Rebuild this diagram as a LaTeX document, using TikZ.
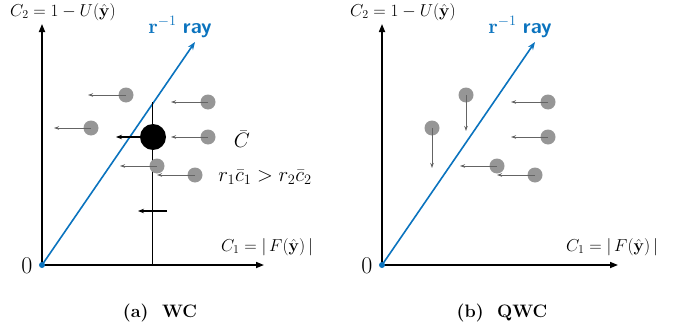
\documentclass[tikz,border=0pt]{standalone}
\usepackage{amsmath,amssymb}
\usetikzlibrary{arrows.meta}
\definecolor{raybl}{RGB}{10,115,190}
\definecolor{dotg}{RGB}{150,150,150}
\definecolor{arrg}{RGB}{100,100,100}
\begin{document}
\begin{tikzpicture}[x=1pt,y=-1pt,
  axis/.style={line width=1.6pt,-{Triangle[length=8pt,width=6pt]}},
  ray/.style={raybl,line width=1.6pt,-{Stealth[length=8pt,width=6pt]}},
  gdot/.style={circle,fill=dotg,inner sep=0pt,minimum size=15pt},
  bdot/.style={circle,fill=black,inner sep=0pt,minimum size=26pt},
  garr/.style={arrg,line width=0.9pt,-{Stealth[length=5pt,width=3.5pt]}},
  barr/.style={black,line width=1.2pt,-{Stealth[length=6pt,width=4.5pt]}},
  lbl/.style={inner sep=0pt,font=\fontsize{17}{19}\selectfont},
  raylbl/.style={inner sep=0pt,text=raybl,font=\fontsize{21}{23}\selectfont},
  captxt/.style={inner sep=0pt,font=\fontsize{18}{20}\selectfont\bfseries},
  zero/.style={inner sep=0pt,font=\fontsize{24}{26}\selectfont}
]
\useasboundingbox (0,0) rectangle (683,332);
% ---------- panel (a)
\coordinate (oa) at (42,265);
\coordinate (ya) at (42,24);
\coordinate (xa) at (264,265);
\coordinate (ra) at (195,42);
\draw[axis] (oa) -- (ya);
\draw[axis] (oa) -- (xa);
\draw[ray] (oa) -- (ra);
\fill[raybl] (oa) circle (3pt);
\node[zero] (za) at (27,266) {0};
\node[lbl] (c2a) at (63,12) {$C_2 = 1 - U(\hat{\mathbf{y}})$};
\node[lbl] (c1a) at (267,247) {$C_1 = |\,F(\hat{\mathbf{y}})\,|$};
\node[raylbl] (rla) at (180,27) {$\mathbf{r}^{-1}$ \textsf{\bfseries ray}};
\coordinate (vt) at (152,102);
\coordinate (vb) at (152,265);
\draw[line width=0.8pt] (vt) -- (vb);
\node[bdot] (big) at (153,137) {};
\coordinate (bigw) at (140,137);
\coordinate (bige) at (116,137);
\draw[barr] (bigw) -- (bige);
\coordinate (ls) at (167,211);
\coordinate (le) at (138,211);
\draw[barr] (ls) -- (le);
\node[gdot] (a1) at (126,95) {};
\node[gdot] (a2) at (208,102) {};
\node[gdot] (a3) at (91,128) {};
\node[gdot] (a4) at (208,137) {};
\node[gdot] (a5) at (157,166) {};
\node[gdot] (a6) at (195,175) {};
\coordinate (e1) at (88,95);
\coordinate (e2) at (171,102);
\coordinate (e3) at (54,128);
\coordinate (e4) at (171,137);
\coordinate (e5) at (120,166);
\coordinate (e6) at (157,175);
\draw[garr] (a1.center) -- (e1);
\draw[garr] (a2.center) -- (e2);
\draw[garr] (a3.center) -- (e3);
\draw[garr] (a4.center) -- (e4);
\draw[garr] (a5.center) -- (e5);
\draw[garr] (a6.center) -- (e6);
\node[inner sep=0pt,font=\fontsize{22}{24}\selectfont] (cbar) at (242,139) {$\bar{C}$};
\node[inner sep=0pt,font=\fontsize{21}{23}\selectfont] (ineq) at (265,177) {$r_1\bar{c}_1 > r_2\bar{c}_2$};
\node[captxt] (capa) at (160,313) {(a)\ \ WC};
% ---------- panel (b)
\coordinate (ob) at (382,265);
\coordinate (yb) at (382,24);
\coordinate (xb) at (618,265);
\coordinate (rb) at (535,42);
\draw[axis] (ob) -- (yb);
\draw[axis] (ob) -- (xb);
\draw[ray] (ob) -- (rb);
\fill[raybl] (ob) circle (3pt);
\node[zero] (zb) at (367,266) {0};
\node[lbl] (c2b) at (403,12) {$C_2 = 1 - U(\hat{\mathbf{y}})$};
\node[lbl] (c1b) at (612,247) {$C_1 = |\,F(\hat{\mathbf{y}})\,|$};
\node[raylbl] (rlb) at (520,27) {$\mathbf{r}^{-1}$ \textsf{\bfseries ray}};
\node[gdot] (b1) at (466,95) {};
\node[gdot] (b2) at (432,128) {};
\node[gdot] (b3) at (548,102) {};
\node[gdot] (b4) at (548,137) {};
\node[gdot] (b5) at (497,166) {};
\node[gdot] (b6) at (535,175) {};
\coordinate (f1) at (466,131);
\coordinate (f2) at (432,168);
\coordinate (f3) at (511,102);
\coordinate (f4) at (511,137);
\coordinate (f5) at (460,166);
\coordinate (f6) at (497,175);
\draw[garr] (b1.center) -- (f1);
\draw[garr] (b2.center) -- (f2);
\draw[garr] (b3.center) -- (f3);
\draw[garr] (b4.center) -- (f4);
\draw[garr] (b5.center) -- (f5);
\draw[garr] (b6.center) -- (f6);
\node[captxt] (capb) at (502,313) {(b)\ \ QWC};
\end{tikzpicture}
\end{document}
